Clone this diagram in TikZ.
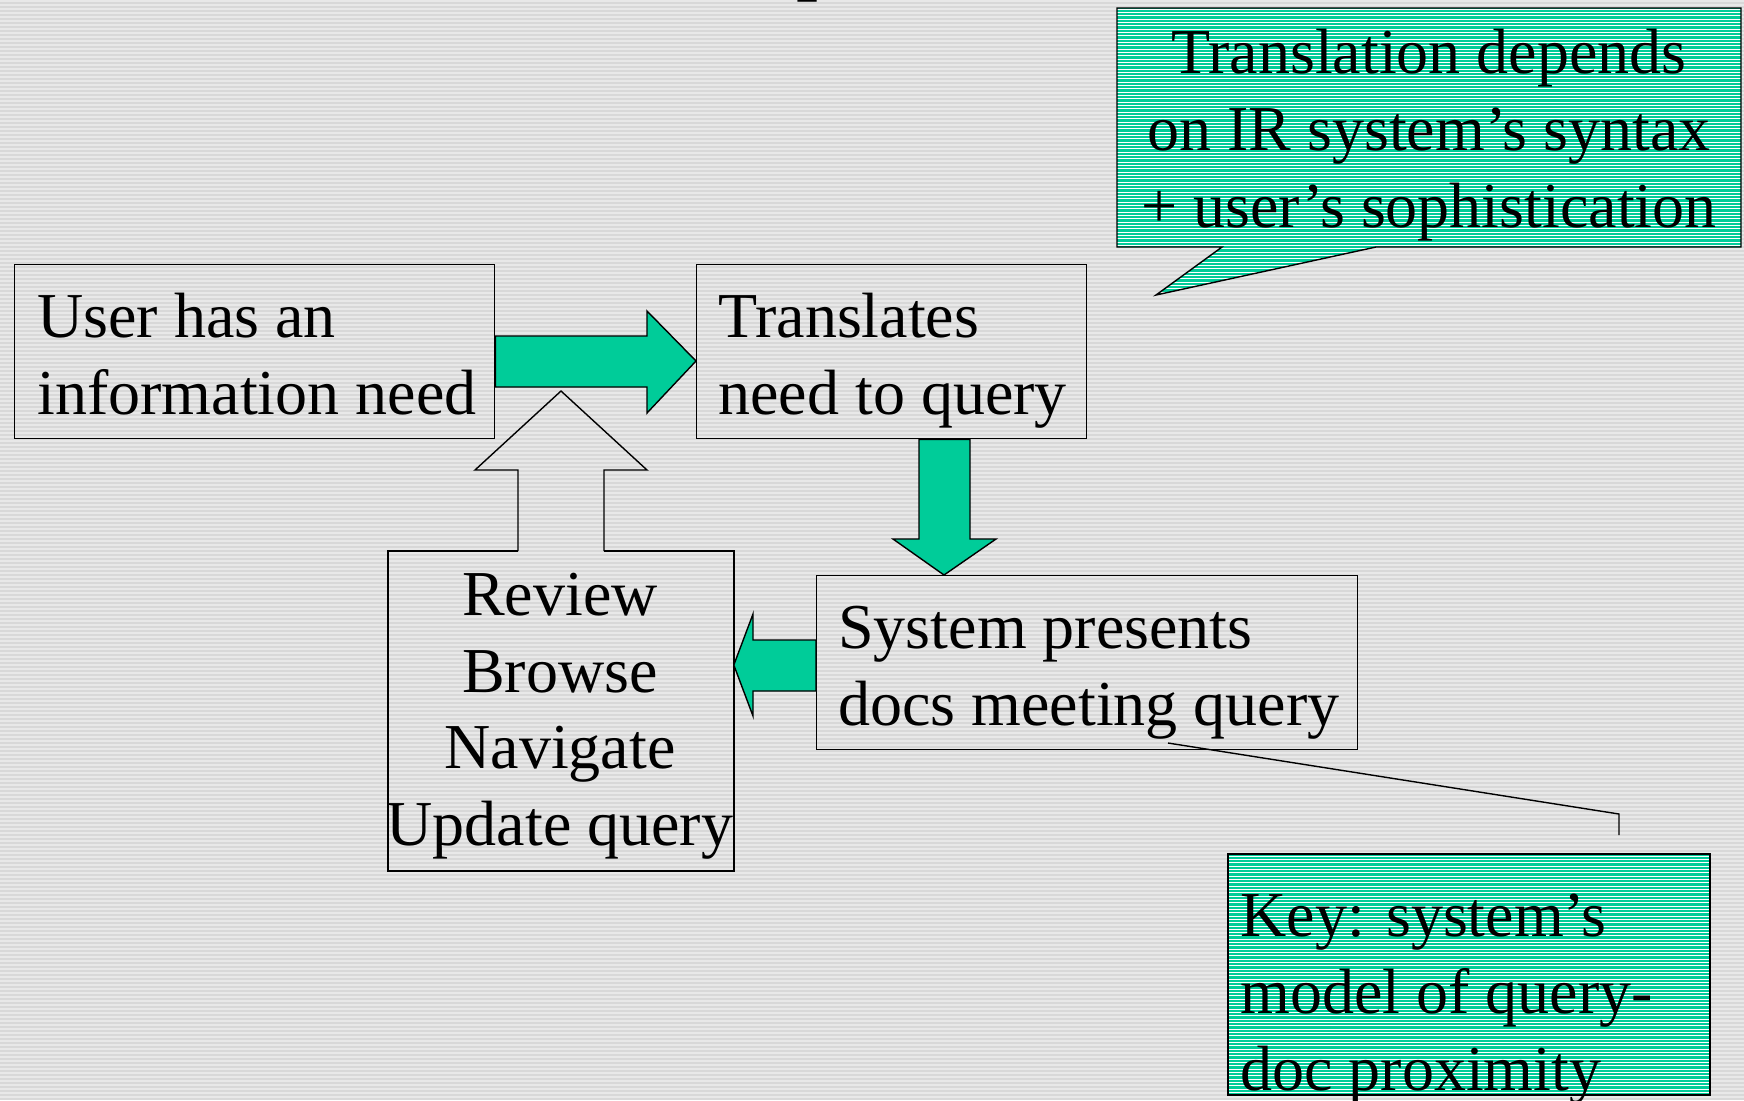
\documentclass[tikz,border=0pt]{standalone}
\usepackage{fontspec}
\setmainfont{Liberation Serif}
\definecolor{tealfill}{HTML}{00CC99}
\definecolor{bgbase}{HTML}{D8D8D8}
\definecolor{bgline}{HTML}{E8E8E8}
\begin{document}
\begin{tikzpicture}[x=0.5pt,y=-0.5pt,
  txt/.style={font=\fontsize{32}{38.5}\selectfont, inner sep=0pt, anchor=base west},
  ctxt/.style={font=\fontsize{32}{38.5}\selectfont, inner sep=0pt, anchor=base},
  box/.style={draw=black, line width=0.7pt, anchor=north west, inner sep=0pt},
  blockarrow/.style={draw=black, line width=0.7pt, fill=tealfill, line join=miter},
  hollowarrow/.style={draw=black, line width=0.7pt, line join=miter},
  thinline/.style={draw=black, line width=0.7pt}]
% background
\useasboundingbox (0,0) rectangle (1744,1100);
\fill[bgbase] (0,0) rectangle (1744,1100);
\foreach \i in {0,...,274} \fill[bgline] (0,\i*4) rectangle (1744,\i*4+2);
% title fragment
\node[anchor=base west, inner sep=0pt, font=\fontsize{44}{50}\selectfont] (ttl) at (796,-17) {p};
% callout (top right)
\fill[tealfill] (1117,8) -- (1741,8) -- (1741,247) -- (1376,247) -- (1156,295) -- (1222,247) -- (1117,247) -- cycle;
\begin{scope}
  \clip (1117,8) -- (1741,8) -- (1741,247) -- (1376,247) -- (1156,295) -- (1222,247) -- (1117,247) -- cycle;
  \foreach \i in {0,...,90} \draw[white, line width=0.45pt] (1110,9+\i*3.33) -- (1750,9+\i*3.33);
\end{scope}
\draw[thinline, line join=miter] (1117,8) -- (1741,8) -- (1741,247) -- (1376,247) -- (1156,295) -- (1222,247) -- (1117,247) -- cycle;
\node[ctxt] (c1) at (1429,73) {Translation depends};
\node[ctxt] (c2) at (1429,150) {on IR system’s syntax};
\node[ctxt] (c3) at (1429,227) {+ user’s sophistication};
% key box
\node[anchor=north west, inner sep=0pt, minimum width=240.5pt, minimum height=120pt, fill=tealfill] (key) at (1228,854) {};
\begin{scope}
  \clip (1228,854) rectangle (1709,1094);
  \foreach \i in {0,...,75} \draw[white, line width=0.45pt] (1220,856+\i*3.33) -- (1720,856+\i*3.33);
\end{scope}
\draw[thinline] (key.north west) rectangle (key.south east);
\node[txt] (k1) at (1240,936) {Key: system’s};
\node[txt] (k2) at (1240,1013) {model of query-};
\node[txt] (k3) at (1240,1090) {doc proximity};
% boxes
\node[box, minimum width=240pt, minimum height=87pt] (b1) at (14,264) {};
\node[box, minimum width=195pt, minimum height=87pt] (b2) at (696,264) {};
\node[box, minimum width=270.5pt, minimum height=87pt] (b3) at (816,575) {};
\node[anchor=north west, inner sep=0pt, minimum width=172.5pt, minimum height=159.5pt] (b4) at (388,551) {};
\draw[thinline, line join=miter] (518,551) -- (b4.north west) -- (b4.south west) -- (b4.south east) -- (b4.north east) -- (604,551);
% texts
\node[txt] (t1a) at (37,337) {User has an};
\node[txt] (t1b) at (37,414) {information need};
\node[txt] (t2a) at (718,337) {Translates};
\node[txt] (t2b) at (718,414) {need to query};
\node[txt] (t3a) at (838,648) {System presents};
\node[txt] (t3b) at (838,725) {docs meeting query};
\node[ctxt] (t4a) at (560,615) {Review};
\node[ctxt] (t4b) at (560,692) {Browse};
\node[ctxt] (t4c) at (560,768) {Navigate};
\node[ctxt] (t4d) at (560,845) {Update query};
% block arrows
\draw[blockarrow] (b1.east |- 0,336) -- (647,336) -- (647,311) -- (b2.west |- 0,361) -- (647,413) -- (647,387) -- (b1.east |- 0,387) -- cycle;
\draw[blockarrow] (919,0 |- b2.south) -- (970,0 |- b2.south) -- (970,539) -- (996,539) -- (944,0 |- b3.north) -- (893,539) -- (919,539) -- cycle;
\draw[blockarrow] (b3.west |- 0,640) -- (753,640) -- (753,614) -- (b4.east |- 0,665) -- (753,716) -- (753,691) -- (b3.west |- 0,691) -- cycle;
\draw[hollowarrow] (518,0 |- b4.north) -- (518,470) -- (475,470) -- (561,391) -- (647,470) -- (604,470) -- (604,0 |- b4.north);
% key pointer line
\coordinate (ptr) at (1168,743);
\coordinate (bend) at (1619,814);
\coordinate (lend) at (1619,835);
\draw[thinline] (ptr) -- (bend) -- (lend);
\end{tikzpicture}
\end{document}
